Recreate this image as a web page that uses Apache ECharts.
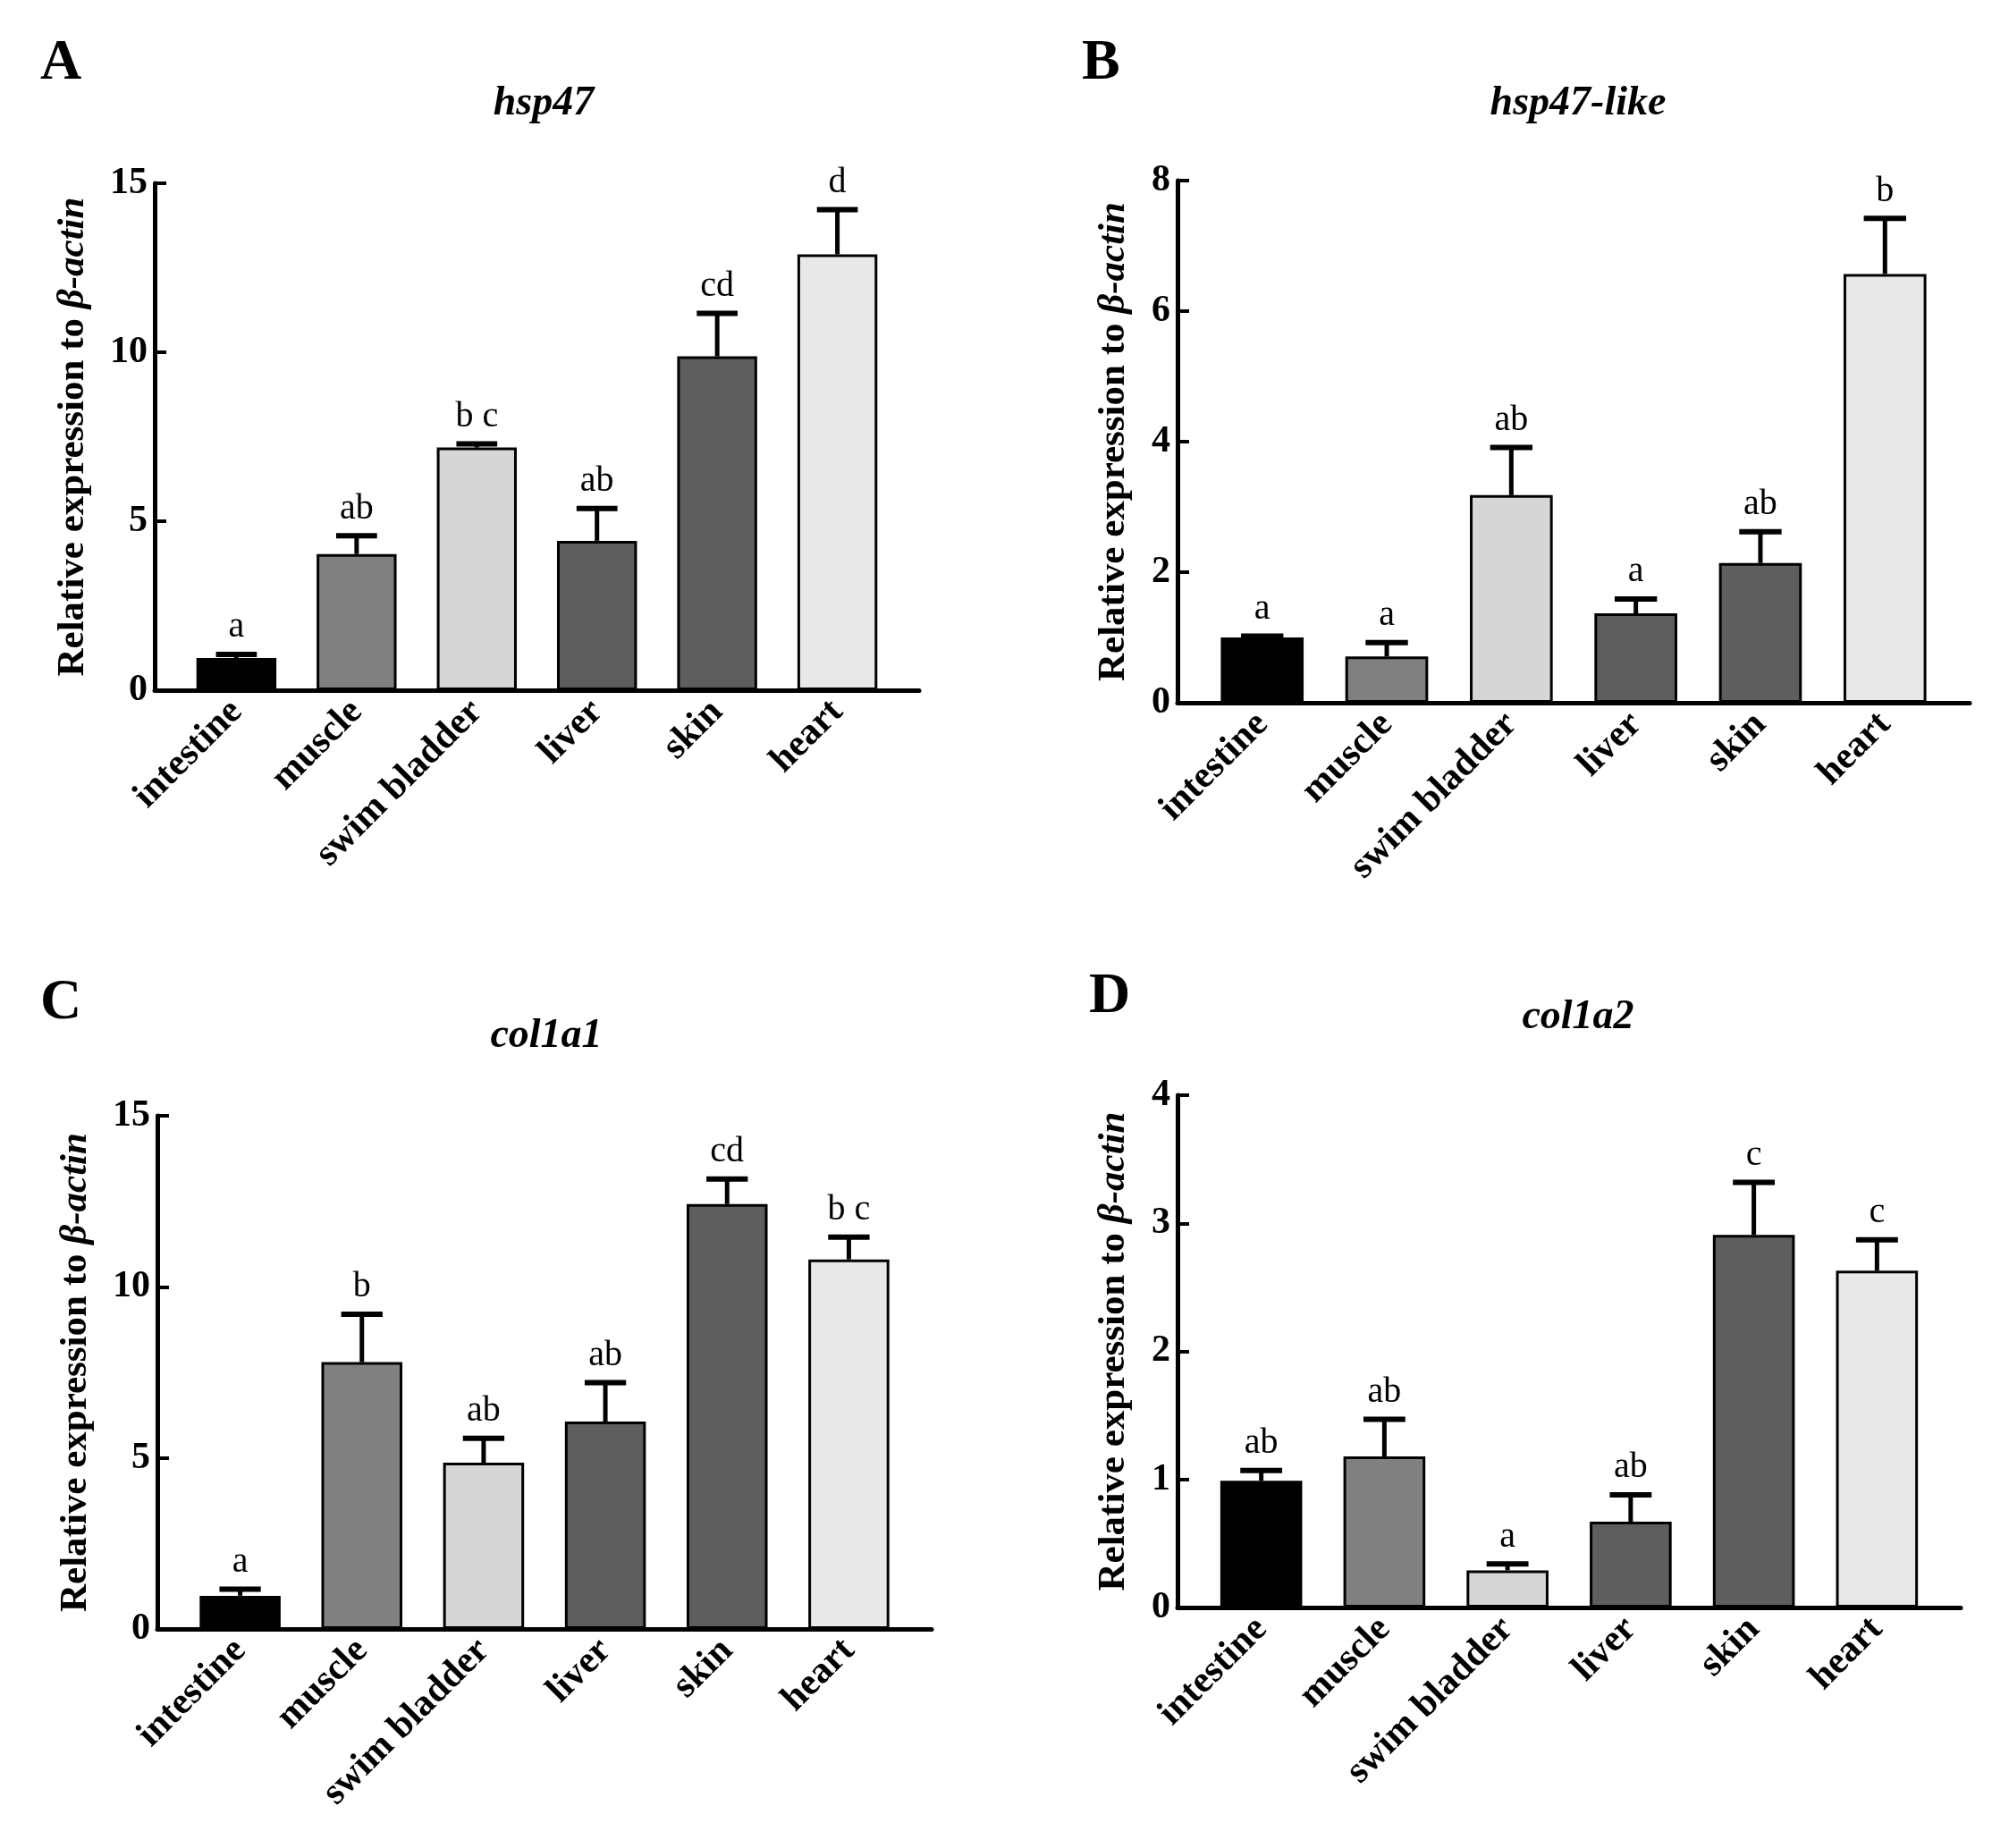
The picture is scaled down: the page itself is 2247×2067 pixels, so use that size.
<!DOCTYPE html>
<html>
<head>
<meta charset="utf-8">
<script src="https://cdn.jsdelivr.net/npm/echarts@6/dist/echarts.min.js"></script>
<style>
  html, body { margin: 0; padding: 0; background: #fff; }
  #chart { width: 2247px; height: 2067px; }
</style>
</head>
<body>
<div id="chart"></div>
<script>
"use strict";

var categories = ["intestine", "muscle", "swim bladder", "liver", "skin", "heart"];

// hsp47 (A)
var hsp47Mean = [0.95, 4.03, 7.18, 4.42, 9.88, 12.9];
var hsp47Upper = [1.06, 4.57, 7.29, 5.38, 11.15, 14.22];
var hsp47Letters = ["a", "ab", "b c", "ab", "cd", "d"];

// hsp47-like (B)
var hsp47LikeMean = [1.0, 0.71, 3.18, 1.37, 2.14, 6.57];
var hsp47LikeUpper = [1.02, 0.92, 3.91, 1.59, 2.62, 7.42];
var hsp47LikeLetters = ["a", "a", "ab", "a", "ab", "b"];

// col1a1 (C)
var col1a1Mean = [0.97, 7.8, 4.86, 6.06, 12.42, 10.8];
var col1a1Upper = [1.16, 9.2, 5.57, 7.2, 13.15, 11.45];
var col1a1Letters = ["a", "b", "ab", "ab", "cd", "b c"];

// col1a2 (D)
var col1a2Mean = [0.99, 1.18, 0.29, 0.67, 2.91, 2.63];
var col1a2Upper = [1.07, 1.47, 0.34, 0.88, 3.32, 2.87];
var col1a2Letters = ["ab", "ab", "a", "ab", "c", "c"];

var yMaxList = [15, 8, 15, 4];
var yIntervalList = [5, 2, 5, 1];
var geneNames = ["hsp47", "hsp47-like", "col1a1", "col1a2"];
var panelNames = ["A", "B", "C", "D"];

var barColors = ["#000000", "#808080", "#d6d6d6", "#5e5e5e", "#5e5e5e", "#e8e8e8"];

var FONT = "'Liberation Serif', 'Times New Roman', serif";

// panel layout (px)
var panels = [
    { left: 173, width: 855, top: 205, height: 567, nameGap: 70, titleX: 603, titleY: 88, tagX: 40, tagY: 34 },
    { left: 1317, width: 886, top: 202, height: 584, nameGap: 50, titleX: 1760, titleY: 88, tagX: 1205, tagY: 34 },
    { left: 176, width: 866, top: 1248, height: 574, nameGap: 70, titleX: 606, titleY: 1131, tagX: 40, tagY: 1085 },
    { left: 1317, width: 876, top: 1225, height: 573, nameGap: 50, titleX: 1760, titleY: 1110, tagX: 1213, tagY: 1078 }
];

var meanList = [hsp47Mean, hsp47LikeMean, col1a1Mean, col1a2Mean];
var upperList = [hsp47Upper, hsp47LikeUpper, col1a1Upper, col1a2Upper];
var letterList = [hsp47Letters, hsp47LikeLetters, col1a1Letters, col1a2Letters];

var X_MIN = -0.68, X_MAX = 5.68;
var catIdx = categories.map(function (c, i) { return i; });

function renderErr(params, api) {
    var x = api.value(0);
    var base = api.coord([x, api.value(1)]);
    var top = api.coord([x, api.value(2)]);
    var halfCap = api.size([1, 0])[0] * 0.17;
    var letter = letterList[params.seriesIndex - 4][params.dataIndex];
    return {
        type: "group",
        children: [
            { type: "line", shape: { x1: base[0], y1: base[1], x2: top[0], y2: top[1] },
              style: { stroke: "#000", lineWidth: 5 } },
            { type: "line", shape: { x1: top[0] - halfCap, y1: top[1], x2: top[0] + halfCap, y2: top[1] },
              style: { stroke: "#000", lineWidth: 6 } },
            { type: "text", x: top[0], y: top[1] - 10,
              style: { text: letter, fill: "#000", font: "40px " + FONT, align: "center", verticalAlign: "bottom" } }
        ]
    };
}

var grids = [], xAxes = [], yAxes = [], barSeries = [], errSeries = [], titles = [];

panels.forEach(function (p, k) {
    grids.push({ left: p.left, top: p.top, width: p.width, height: p.height });
    xAxes.push({
        type: "value", gridIndex: k, min: X_MIN, max: X_MAX,
        splitLine: { show: false },
        axisLine: { show: true, onZero: false, lineStyle: { color: "#000", width: 5 } },
        axisTick: { show: true, inside: true, length: 7, customValues: catIdx, lineStyle: { color: "#000", width: 4 } },
        axisLabel: {
            customValues: catIdx, rotate: 45, margin: 18,
            formatter: function (v) { return categories[Math.round(v)]; },
            color: "#000", fontFamily: FONT, fontWeight: "bold", fontSize: 42
        }
    });
    yAxes.push({
        type: "value", gridIndex: k, min: 0, max: yMaxList[k], interval: yIntervalList[k],
        splitLine: { show: false },
        axisLine: { show: true, onZero: false, lineStyle: { color: "#000", width: 5 } },
        axisTick: { show: true, inside: true, length: 13, lineStyle: { color: "#000", width: 4 } },
        axisLabel: { color: "#000", fontFamily: FONT, fontWeight: "bold", fontSize: 42, margin: 8 },
        name: "Relative expression to {i|\u03b2-actin}",
        nameLocation: "middle", nameGap: p.nameGap, nameRotate: 90,
        nameTextStyle: {
            color: "#000", fontFamily: FONT, fontWeight: "bold", fontSize: 43,
            rich: { i: { fontStyle: "italic", fontWeight: "bold", fontSize: 43, fontFamily: FONT, color: "#000" } }
        }
    });
    var barW = 0.665 * p.width / (X_MAX - X_MIN);
    barSeries.push({
        type: "bar", xAxisIndex: k, yAxisIndex: k, barWidth: barW,
        itemStyle: { borderColor: "#000", borderWidth: 3 },
        data: meanList[k].map(function (v, i) {
            return { value: [i, v], itemStyle: { color: barColors[i] } };
        }),
        z: 2
    });
    errSeries.push({
        type: "custom", xAxisIndex: k, yAxisIndex: k, renderItem: renderErr,
        data: meanList[k].map(function (v, i) { return [i, v, upperList[k][i]]; }),
        clip: false, z: 3
    });
    titles.push({
        text: panelNames[k], left: p.tagX, top: p.tagY,
        textStyle: { color: "#000", fontFamily: FONT, fontWeight: "bold", fontSize: 64 }
    });
    titles.push({
        text: geneNames[k], left: p.titleX, top: p.titleY, textAlign: "center",
        textStyle: { color: "#000", fontFamily: FONT, fontWeight: "bold", fontStyle: "italic", fontSize: 46 }
    });
});

var chart = echarts.init(document.getElementById("chart"));
chart.setOption({
    backgroundColor: "#fff",
    animation: false,
    title: titles,
    grid: grids,
    xAxis: xAxes,
    yAxis: yAxes,
    series: barSeries.concat(errSeries)
});
</script>
</body>
</html>
